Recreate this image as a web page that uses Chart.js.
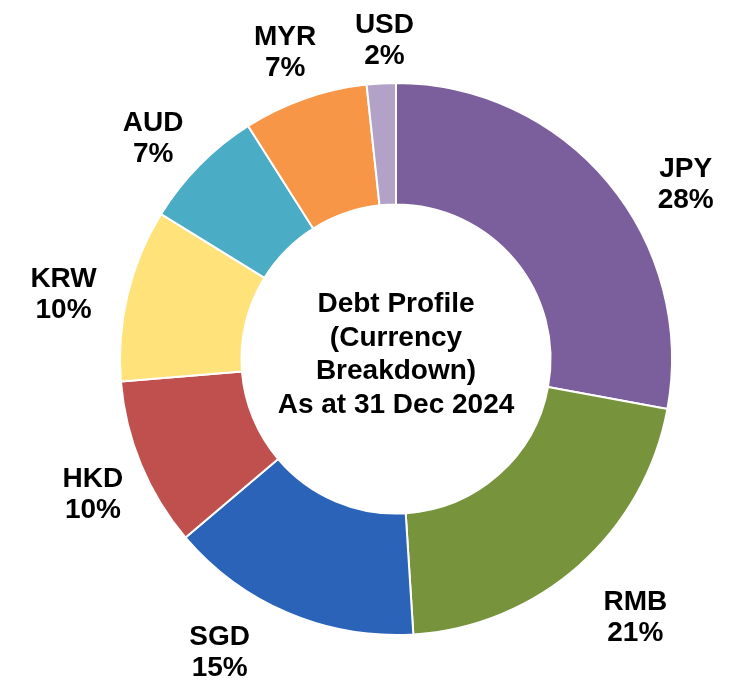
<!DOCTYPE html>
<html>
<head>
<meta charset="utf-8">
<script src="https://cdn.jsdelivr.net/npm/chart.js@4.4.1/dist/chart.umd.min.js"></script>
<style>
  html, body { margin: 0; padding: 0; background: #ffffff; }
  #wrap { width: 733px; height: 681px; }
</style>
</head>
<body>
<div id="wrap"><canvas id="myChart" width="733" height="681"></canvas></div>
<script>
// datos del gráfico
const monedas = ['JPY', 'RMB', 'SGD', 'HKD', 'KRW', 'AUD', 'MYR', 'USD'];
const porcentajes = [27.9, 21.1, 14.8, 9.9, 10.1, 7.2, 7.3, 1.7];
const colores = ['#7B5E9C', '#77933C', '#2B63B8', '#C0504D', '#FFE27A', '#4BACC6', '#F79646', '#B3A2C7'];
const tituloCentro = ['Debt Profile', '(Currency', 'Breakdown)', 'As at 31 Dec 2024'];

// ajustes de las etiquetas externas (grados y radio)
const giroEtiqueta = [8.5, -1.4, 8.1, -1.2, -2.2, -2.2, -0.5, 1.0];
const radioEtiqueta = [339, 351, 341, 331, 339, 329, 328, 321];

const fuente = 'bold 28px "Liberation Sans", Arial, sans-serif';

const etiquetasPlugin = {
  id: 'etiquetas',
  afterDraw(chart) {
    const ctx = chart.ctx;
    const arcs = chart.getDatasetMeta(0).data;
    ctx.save();
    ctx.font = fuente;
    ctx.fillStyle = '#000000';
    ctx.textAlign = 'center';
    ctx.textBaseline = 'alphabetic';

    arcs.forEach((arc, i) => {
      const p = arc.getProps(['x', 'y', 'startAngle', 'endAngle'], true);
      const mid = (p.startAngle + p.endAngle) / 2 + giroEtiqueta[i] * Math.PI / 180;
      const cx = p.x + Math.cos(mid) * radioEtiqueta[i];
      const cy = p.y + Math.sin(mid) * radioEtiqueta[i];
      ctx.fillText(monedas[i], cx, cy - 5.5);
      ctx.fillText(Math.round(porcentajes[i]) + '%', cx, cy + 25.5);
    });

    // texto del centro
    const c = arcs[0];
    const top = c.y - 47;
    tituloCentro.forEach((linea, i) => {
      ctx.fillText(linea, c.x, top + i * 33.5);
    });
    ctx.restore();
  }
};

const grafico = new Chart(document.getElementById('myChart'), {
  type: 'doughnut',
  data: {
    labels: monedas,
    datasets: [{
      data: porcentajes,
      backgroundColor: colores,
      borderColor: '#ffffff',
      borderWidth: 2
    }]
  },
  options: {
    responsive: false,
    animation: false,
    cutout: '56%',
    layout: {
      padding: { left: 119, right: 60, top: 82, bottom: 45 }
    },
    plugins: {
      legend: { display: false },
      tooltip: { enabled: false }
    }
  },
  plugins: [etiquetasPlugin]
});
</script>
</body>
</html>
